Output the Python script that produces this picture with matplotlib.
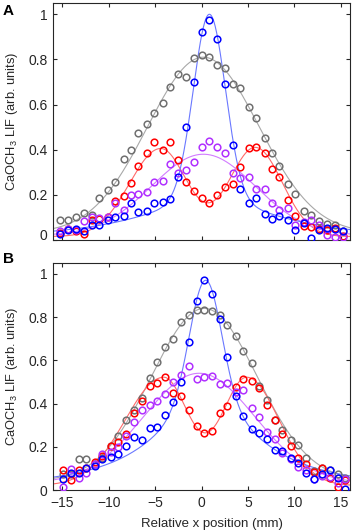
import numpy as np
import matplotlib.pyplot as plt
import matplotlib.transforms as mtransforms

plt.rcParams['font.family'] = ['Liberation Sans', 'DejaVu Sans']
plt.rcParams['mathtext.fontset'] = 'custom'
plt.rcParams['mathtext.rm'] = 'Liberation Sans'

# positions (mm)
x_a = [-15.2, -14.4, -13.5, -12.7, -11.8, -11.0, -10.1, -9.3, -8.4, -7.6, -6.8, -5.9, -5.1,
       -4.2, -3.4, -2.5, -1.7, -0.8, 0.0, 0.8, 1.7, 2.5, 3.4, 4.2, 5.1, 5.9, 6.8, 7.6, 8.4,
       9.3, 10.1, 11.0, 11.8, 12.7, 13.5, 14.4, 15.2]
x_b = [-14.9, -14.1, -13.2, -12.4, -11.5, -10.7, -9.8, -9.0, -8.1, -7.3, -6.4, -5.6, -4.8,
       -3.9, -3.1, -2.2, -1.4, -0.5, 0.3, 1.1, 2.0, 2.8, 3.7, 4.5, 5.4, 6.2, 7.1, 7.9, 8.7,
       9.6, 10.4, 11.3, 12.1, 13.0, 13.8, 14.7, 15.5]

# panneau A
gray_a = [0.087, 0.089, 0.10, 0.12, 0.11, 0.188, 0.222, 0.255, 0.357, 0.398, 0.476, 0.516, 0.564,
          0.606, 0.677, 0.736, 0.721, 0.807, 0.818, 0.81, 0.776, 0.761, 0.689, 0.674, 0.591, 0.539,
          0.453, 0.387, 0.329, 0.247, 0.203, 0.129, 0.111, 0.084, 0.073, 0.068, 0.04]
red_a = [0.03, 0.05, 0.04, 0.028, 0.089, 0.095, 0.1, 0.173, 0.197, 0.252, 0.326, 0.385, 0.433,
         0.4, 0.433, 0.354, 0.259, 0.215, 0.188, 0.166, 0.2, 0.233, 0.246, 0.324, 0.406, 0.413,
         0.384, 0.314, 0.28, 0.176, 0.107, 0.062, 0.058, 0.047, 0.046, 0.055, 0.018]
blue_a = [0.025, 0.045, 0.047, 0.04, 0.065, 0.065, 0.087, 0.102, 0.105, 0.164, 0.123, 0.129, 0.164,
          0.169, 0.181, 0.277, 0.499, 0.698, 0.923, 0.973, 0.889, 0.692, 0.419, 0.225, 0.163, 0.185,
          0.114, 0.092, 0.107, 0.089, 0.043, 0.077, 0.01, 0.044, 0.055, 0.05, 0.04]
purple_a = [0.04, 0.05, 0.045, 0.082, 0.1, 0.096, 0.1, 0.165, 0.133, 0.2, 0.203, 0.213, 0.255,
            0.261, 0.336, 0.296, 0.312, 0.346, 0.41, 0.438, 0.41, 0.384, 0.296, 0.274, 0.28, 0.228,
            0.228, 0.163, 0.133, 0.142, 0.065, 0.081, 0.087, 0.065, 0.022, 0.013, 0.013]

# panneau B
gray_b = [0.072, 0.072, 0.142, 0.142, 0.12, 0.15, 0.205, 0.25, 0.326, 0.37, 0.426, 0.52, 0.59,
          0.66, 0.70, 0.777, 0.808, 0.834, 0.834, 0.83, 0.808, 0.765, 0.714, 0.642, 0.586, 0.483,
          0.418, 0.326, 0.277, 0.229, 0.206, 0.149, 0.088, 0.1, 0.092, 0.072, 0.054]
red_b = [0.092, 0.046, 0.092, 0.1, 0.13, 0.155, 0.203, 0.223, 0.257, 0.357, 0.41, 0.483, 0.495,
         0.523, 0.449, 0.437, 0.372, 0.295, 0.265, 0.272, 0.354, 0.388, 0.478, 0.515, 0.503, 0.472,
         0.392, 0.323, 0.257, 0.204, 0.15, 0.12, 0.085, 0.1, 0.057, 0.014, 0.045]
blue_b = [0.052, 0.08, 0.08, 0.103, 0.11, 0.145, 0.154, 0.165, 0.203, 0.246, 0.229, 0.288, 0.292,
          0.346, 0.408, 0.5, 0.685, 0.872, 0.97, 0.906, 0.79, 0.614, 0.437, 0.342, 0.283, 0.262,
          0.237, 0.183, 0.18, 0.149, 0.126, 0.08, 0.052, 0.072, 0.091, 0.054, 0.006]
purple_b = [0.014, 0.098, 0.057, 0.08, 0.12, 0.165, 0.177, 0.198, 0.25, 0.314, 0.369, 0.392, 0.41,
            0.445, 0.498, 0.531, 0.572, 0.515, 0.525, 0.526, 0.49, 0.494, 0.452, 0.463, 0.377, 0.337,
            0.27, 0.234, 0.172, 0.145, 0.106, 0.092, 0.052, 0.065, 0.06, 0.031, 0.052]

# parametres des ajustements
fit_a = {'gray': (0.03, 0.78, 0.2, 6.0), 'purple': (0.02, 0.36, 0.2, 5.6),
         'red': (0.015, 0.39, -4.4, 3.35, 2.8, 0.395, 5.8, 2.8, 2.9),
         'blue': (0.82, 0.85, 1.72, 0.18, 8.9)}
fit_b = {'gray': (0.04, 0.80, 0.3, 5.7), 'purple': (0.03, 0.51, -0.25, 6.0),
         'red': (0.02, 0.50, -4.1, 4.13, 2.68, 0.50, 4.9, 2.68, 3.47),
         'blue': (0.55, 0.45, 1.7, 0.42, 6.67)}

col = {'gray': '#707070', 'red': '#ff0000', 'blue': '#0000ff', 'purple': '#b030ff'}
col_fit = {'gray': '#a8a8a8', 'red': '#ff6a6a', 'blue': '#6a78ff', 'purple': '#d27cff'}


def gauss(x, a, c, s):
    return a * np.exp(-(x - c) ** 2 / (2 * s ** 2))


def split_gauss(x, a, c, sl, sr):
    s = np.where(x < c, sl, sr)
    return a * np.exp(-(x - c) ** 2 / (2 * s ** 2))


def curve(name, p, x):
    if name in ('gray', 'purple'):
        return p[0] + gauss(x, p[1], p[2], p[3])
    if name == 'red':
        return p[0] + split_gauss(x, *p[1:5]) + split_gauss(x, *p[5:9])
    return gauss(x, p[0], p[1], p[2]) + p[3] / (1 + ((x - p[1]) / p[4]) ** 2)


fig = plt.figure(figsize=(3.53, 5.32), dpi=100)
axA = fig.add_axes([53 / 353, 1 - 240 / 532, 297 / 353, 237 / 532])
axB = fig.add_axes([53 / 353, 1 - 490 / 532, 297 / 353, 227 / 532])

xx = np.linspace(-16, 16, 600)
panels = [(axA, x_a, {'gray': gray_a, 'red': red_a, 'purple': purple_a, 'blue': blue_a}, fit_a),
          (axB, x_b, {'gray': gray_b, 'red': red_b, 'purple': purple_b, 'blue': blue_b}, fit_b)]

for ax, xs, series, fits in panels:
    for name in ['gray', 'red', 'purple', 'blue']:
        ax.plot(xx, curve(name, fits[name], xx), color=col_fit[name], lw=0.8, zorder=2)
    for name in ['gray', 'red', 'purple', 'blue']:
        ax.plot(xs, series[name], 'o', ms=4.8, mfc='none', mec=col[name], mew=1.1, zorder=3)
    ax.set_xlim(-16, 16)
    ax.set_ylim(0, 1.05)
    ax.set_xticks([-15, -10, -5, 0, 5, 10, 15])
    ax.set_yticks([0, 0.2, 0.4, 0.6, 0.8, 1])
    ax.set_yticklabels(['0', '0.2', '0.4', '0.6', '0.8', '1'])
    ax.tick_params(direction='in', length=3, width=0.8, top=True, right=True,
                   labelsize=10, colors='#262626', pad=4)
    for sp in ax.spines.values():
        sp.set_color('#262626')
        sp.set_linewidth(0.8)
    ax.set_ylabel('CaOCH$_{3}$ LIF (arb. units)', fontsize=9.3, color='#262626')
    ax.yaxis.set_label_coords(-0.112, 0.5)

axA.set_xticklabels([])
# le "0" du panneau A est decale vers le haut
lbl0 = axA.get_yticklabels()[0]
lbl0.set_transform(lbl0.get_transform() + mtransforms.ScaledTranslation(0, 5 / 100, fig.dpi_scale_trans))

axB.set_xlabel('Relative x position (mm)', fontsize=9.5, color='#262626')
axB.xaxis.set_label_coords(0.535, -0.125)

fig.text(3 / 353, 1 - 4 / 532, 'A', fontsize=11, fontweight='bold', va='top', ha='left')
fig.text(3 / 353, 1 - 252 / 532, 'B', fontsize=11, fontweight='bold', va='top', ha='left')

fig.savefig('out.png', dpi=100)
